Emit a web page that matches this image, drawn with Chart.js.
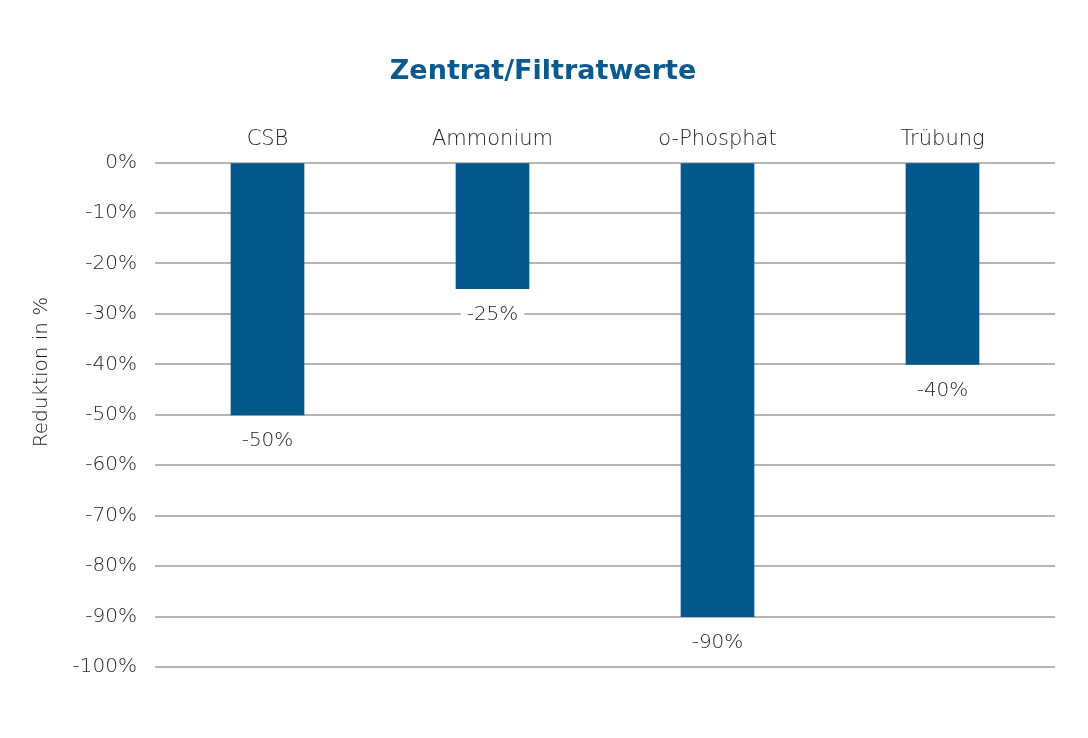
<!DOCTYPE html>
<html>
<head>
<meta charset="utf-8">
<script src="https://cdn.jsdelivr.net/npm/chart.js@4/dist/chart.umd.min.js"></script>
<style>
  html, body { margin: 0; padding: 0; background: #fff; }
  #wrap { width: 1088px; height: 738px; }
</style>
</head>
<body>
<div id="wrap"><canvas id="chart" width="1088" height="738"></canvas></div>
<script>
// values (reduction in percent)
const categories = ["CSB", "Ammonium", "o-Phosphat", "Trübung"];
const reduction = [-50, -25, -90, -40];
const title_text = "Zentrat/Filtratwerte";
const y_title = "Reduktion in %";

const bar_blue = "#03578c";
const text_grey = "#1e1e1e";
const font_family = "'DejaVu Sans', 'Noto Sans', sans-serif";

// writes "-50%" etc. under each bar end, on a white patch over the grid
const bar_labels = {
    id: 'bar_labels',
    afterDatasetsDraw(chart){
        const ctx = chart.ctx;
        const meta = chart.getDatasetMeta(0);
        ctx.save();
        ctx.font = "200 20px " + font_family;
        ctx.textAlign = "center";
        ctx.textBaseline = "middle";
        meta.data.forEach(function (bar, i){
            let txt = reduction[i] + "%";
            let w = ctx.measureText(txt).width;
            let y = bar.y + 26;
            ctx.fillStyle = "#ffffff";
            ctx.fillRect(bar.x - w/2 - 6, y - 12, w + 12, 24);
            ctx.fillStyle = text_grey;
            ctx.fillText(txt, bar.x, y);
        });
        ctx.restore();
    }
};

// y axis title sits a bit above the middle in the original
const y_title_plugin = {
    id: 'y_title_plugin',
    afterDraw(chart){
        const ctx = chart.ctx;
        const area = chart.chartArea;
        ctx.save();
        ctx.translate(42, area.top + (area.bottom - area.top) * 0.415);
        ctx.rotate(-Math.PI / 2);
        ctx.font = "200 20px " + font_family;
        ctx.fillStyle = text_grey;
        ctx.textAlign = "center";
        ctx.textBaseline = "middle";
        ctx.fillText(y_title, 0, 0);
        ctx.restore();
    }
};

new Chart(document.getElementById('chart'), {
    type: 'bar',
    data: {
        labels: categories,
        datasets: [{
            data: reduction,
            backgroundColor: bar_blue,
            barThickness: 73,
            borderWidth: 0
        }]
    },
    options: {
        responsive: false,
        animation: false,
        layout: {
            padding: {left: 31, right: 33, top: 0, bottom: 71}
        },
        plugins: {
            legend: { display: false },
            tooltip: { enabled: false },
            title: {
                display: true,
                text: title_text,
                color: "#0b5a8f",
                font: { family: font_family, size: 27, weight: 'bold' },
                padding: { top: 56, bottom: 29 }
            }
        },
        scales: {
            x: {
                position: 'top',
                grid: { display: false, drawTicks: false },
                border: { display: false },
                ticks: {
                    color: text_grey,
                    padding: 10,
                    font: { family: font_family, size: 21, weight: '200' }
                }
            },
            y: {
                min: -100,
                max: 0,
                afterFit: function (scale){ scale.width = 124; },
                grid: { color: "#b5b5b5", lineWidth: 2, drawTicks: false },
                border: { display: false },
                ticks: {
                    stepSize: 10,
                    color: text_grey,
                    padding: 18,
                    font: { family: font_family, size: 20, weight: '200' },
                    callback: function (v){ return v + "%"; }
                }
            }
        }
    },
    plugins: [bar_labels, y_title_plugin]
});
</script>
</body>
</html>
